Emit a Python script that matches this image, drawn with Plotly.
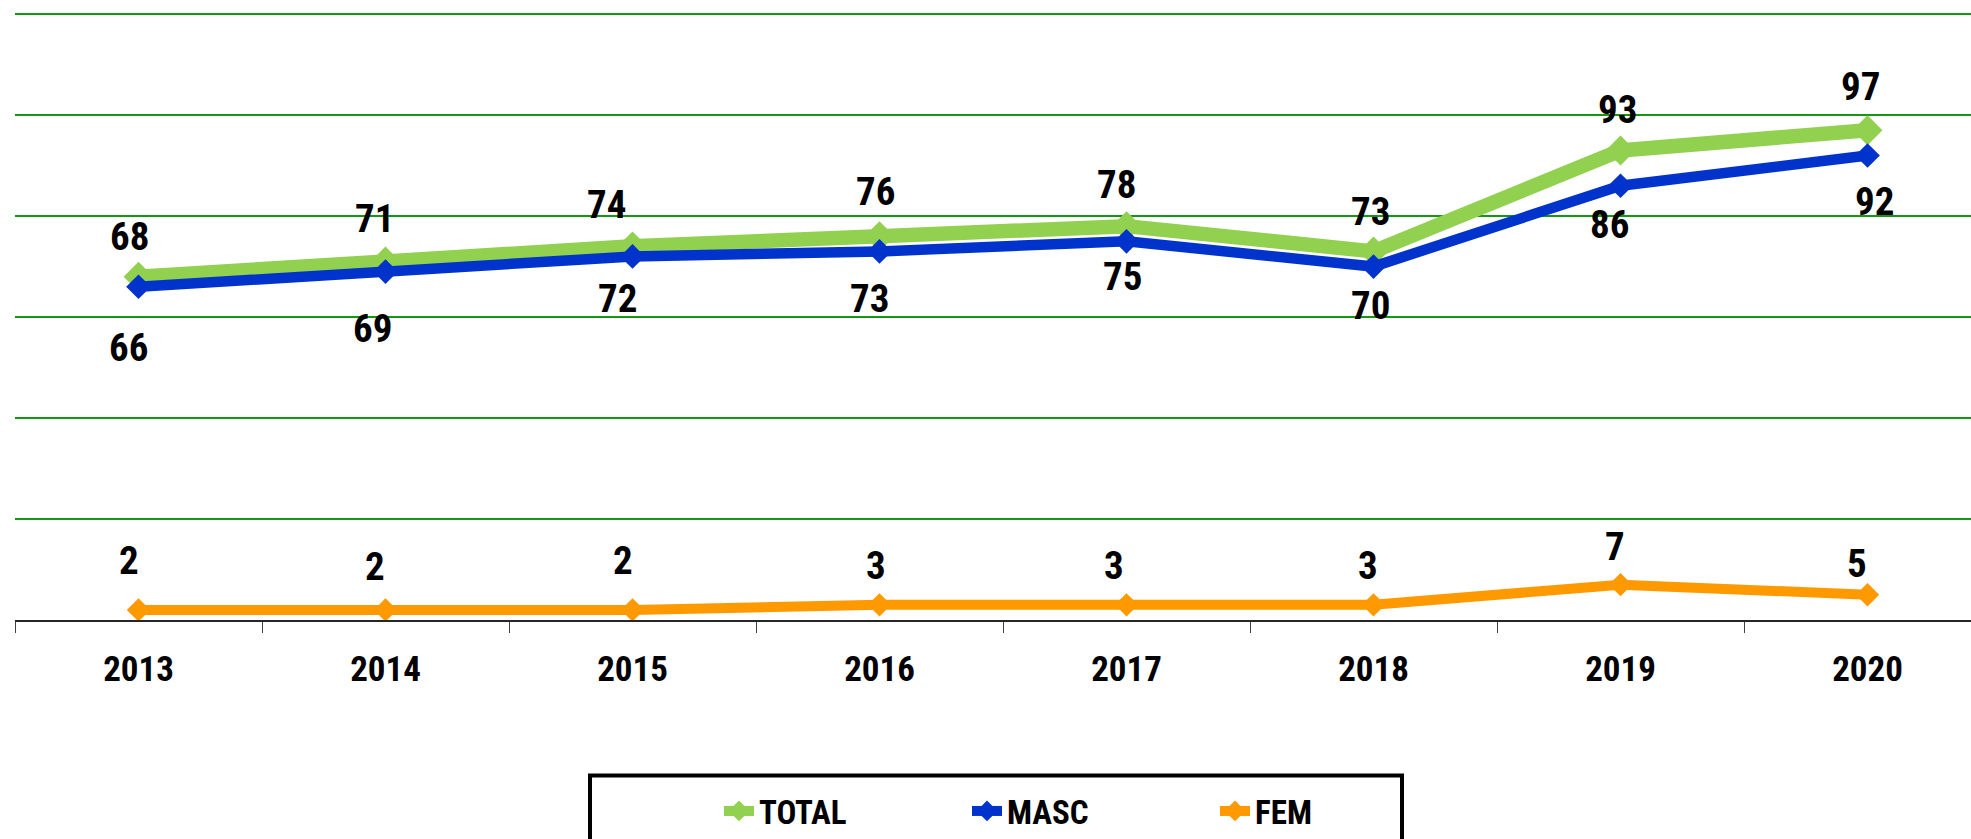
import plotly.graph_objects as go

years = ["2013", "2014", "2015", "2016", "2017", "2018", "2019", "2020"]
total = [68, 71, 74, 76, 78, 73, 93, 97]
masc = [66, 69, 72, 73, 75, 70, 86, 92]
fem = [2, 2, 2, 3, 3, 3, 7, 5]

# label offsets in px (manual label placement as in the original)
TOTAL_DX = [-9, -11, -26, -4, -10, -3, -3, -7]
TOTAL_DY = [40, 43, 41, 44, 41, 39, 40, 43]
MASC_DX = [-10, -13, -15, -10, -4, -3, -11, 7]
MASC_DY = [-61, -57, -43, -48, -36, -39, -39, -47]
FEM_DX = [-10, -11, -10, -4, -13, -6, -6, -11]
FEM_DY = [49, 43, 49, 39, 39, 39, 38, 31]

FONT = "Roboto Condensed, Open Sans Condensed, sans-serif"

fig = go.Figure()
series = [
    ("TOTAL", total, "#92D050", 14.5, 23),
    ("MASC", masc, "#0033CC", 10.5, 19),
    ("FEM", fem, "#FF9900", 10, 18),
]
for name, vals, col, lw, ms in series:
    fig.add_trace(go.Scatter(
        x=years, y=vals, name=name, mode="lines+markers",
        line=dict(color=col, width=lw),
        marker=dict(symbol="diamond", size=ms, color=col),
    ))

annotations = []
for vals, dxs, dys in [(total, TOTAL_DX, TOTAL_DY), (masc, MASC_DX, MASC_DY), (fem, FEM_DX, FEM_DY)]:
    for i, (v, dx, dy) in enumerate(zip(vals, dxs, dys)):
        annotations.append(dict(
            x=i, y=v, xref="x", yref="y", text=f"<b>{v}</b>", showarrow=False,
            xshift=dx, yshift=dy, font=dict(family=FONT, size=39, color="black"),
        ))

fig.update_layout(
    width=1971, height=839,
    margin=dict(l=15, r=0, t=4, b=217),
    paper_bgcolor="white", plot_bgcolor="white",
    annotations=annotations,
    showlegend=True,
    legend=dict(
        orientation="h", x=(719 - 15) / 1956, y=-0.265, xanchor="left", yanchor="top",
        font=dict(family=FONT, size=33, color="black", weight="bold"),
        entrywidth=203, borderwidth=0, bgcolor="rgba(0,0,0,0)",
    ),
    shapes=[dict(
        type="rect", xref="paper", yref="paper",
        x0=(590 - 15) / 1956, x1=(1402 - 15) / 1956,
        y0=(622 - 778) / 618, y1=(622 - 900) / 618,
        line=dict(color="black", width=4), fillcolor="rgba(0,0,0,0)", layer="below",
    )],
)
fig.update_xaxes(
    type="category", range=[-0.5, 7.419],
    showline=True, linecolor="#262626", linewidth=1.5,
    ticks="outside", tickson="boundaries", ticklen=11, tickcolor="#404040",
    showgrid=False, zeroline=False,
    tickfont=dict(family=FONT, size=35, color="black", weight="bold"),
    ticklabelstandoff=17,
)
fig.update_yaxes(
    range=[0, 122], dtick=20, showgrid=True, gridcolor="#159615", gridwidth=1.5,
    showticklabels=False, zeroline=False, showline=False, ticks="",
)

fig.write_html("out.html", config={"displayModeBar": False},
               post_script="document.body.style.margin='0';")
